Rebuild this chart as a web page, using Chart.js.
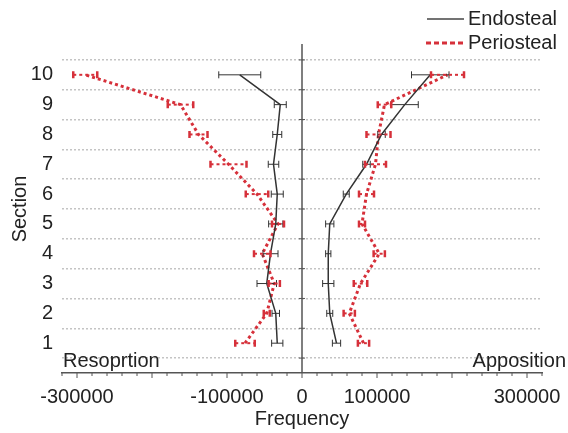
<!DOCTYPE html>
<html>
<head>
<meta charset="utf-8">
<script src="https://cdn.jsdelivr.net/npm/chart.js@4.4.0/dist/chart.umd.min.js"></script>
<style>
  html, body { margin: 0; padding: 0; background: #fff; }
  #wrap { width: 568px; height: 433px; }
</style>
</head>
<body>
<div id="wrap"><canvas id="myChart" width="568" height="433"></canvas></div>
<script>
// sections 1..10
const sections = [1, 2, 3, 4, 5, 6, 7, 8, 9, 10];

// Endosteal
const endoResorption = [-33000, -35000, -47000, -42000, -35000, -33000, -38000, -33000, -29000, -83000];
const endoResorptionErr = [7500, 5000, 13000, 10000, 9500, 8000, 7000, 6000, 8000, 28000];
const endoApposition = [46000, 37000, 35000, 35000, 37000, 59000, 86000, 106000, 137000, 171000];
const endoAppositionErr = [5500, 4000, 7500, 3500, 5500, 4000, 5000, 5000, 18000, 25000];

// Periosteal
const perioResorption = [-76000, -47000, -37000, -53000, -32000, -60000, -98000, -138000, -162000, -289000];
const perioResorptionErr = [13000, 4000, 7500, 11000, 8000, 15000, 24000, 12000, 17000, 16000];
const perioApposition = [82000, 63000, 78000, 103000, 80000, 86000, 98000, 102000, 110000, 194000];
const perioAppositionErr = [7500, 7500, 9000, 7500, 4000, 10000, 14000, 16000, 9000, 22000];

const xLabels = [-300000, -100000, 0, 100000, 300000];

const FONT = '"Liberation Sans", Arial, sans-serif';
const TEXT = '#222';
const BLACK = '#333';
const RED = '#d6303a';

function pts(vals) {
    return vals.map((v, i) => ({ x: v, y: sections[i] }));
}

const blackStyle = { borderColor: BLACK, backgroundColor: BLACK, borderWidth: 1.5, pointRadius: 0, showLine: true, tension: 0 };
const redStyle = { borderColor: RED, backgroundColor: RED, borderWidth: 3, borderDash: [3, 3], pointRadius: 0, showLine: true, tension: 0 };

const data = {
    datasets: [
        Object.assign({ label: 'Endosteal', data: pts(endoResorption), err: endoResorptionErr }, blackStyle),
        Object.assign({ label: 'Endosteal', data: pts(endoApposition), err: endoAppositionErr }, blackStyle),
        Object.assign({ label: 'Periosteal', data: pts(perioResorption), err: perioResorptionErr }, redStyle),
        Object.assign({ label: 'Periosteal', data: pts(perioApposition), err: perioAppositionErr }, redStyle)
    ]
};

// error bars, centre axis, bottom tick marks, side labels and legend
const extras = {
    id: 'extras',
    beforeDatasetsDraw(chart) {
        const ctx = chart.ctx;
        const xs = chart.scales.x, ys = chart.scales.y;
        const area = chart.chartArea;
        ctx.save();
        // centre axis
        const x0 = xs.getPixelForValue(0);
        ctx.strokeStyle = '#555';
        ctx.lineWidth = 1.5;
        ctx.beginPath();
        ctx.moveTo(x0, area.top - 1);
        ctx.lineTo(x0, area.bottom);
        ctx.stroke();
        ctx.lineWidth = 1;
        for (let s = 0.5; s < 11; s += 1) {
            const y = ys.getPixelForValue(s);
            ctx.beginPath();
            ctx.moveTo(x0 - 3, y);
            ctx.lineTo(x0 + 3, y);
            ctx.stroke();
        }
        // x tick marks
        ctx.strokeStyle = '#555';
        xs.ticks.forEach(t => {
            const x = xs.getPixelForValue(t.value);
            const major = Math.round(t.value) % 100000 === 0;
            ctx.beginPath();
            ctx.moveTo(x, area.bottom);
            ctx.lineTo(x, area.bottom + (major ? 5 : 3));
            ctx.stroke();
        });
        ctx.restore();
    },
    afterDatasetsDraw(chart) {
        const ctx = chart.ctx;
        const xs = chart.scales.x, ys = chart.scales.y;
        ctx.save();
        chart.data.datasets.forEach(ds => {
            const red = ds.label === 'Periosteal';
            ds.data.forEach((p, i) => {
                const e = ds.err[i];
                const xa = xs.getPixelForValue(p.x - e);
                const xb = xs.getPixelForValue(p.x + e);
                const y = ys.getPixelForValue(p.y);
                ctx.strokeStyle = red ? RED : BLACK;
                ctx.lineWidth = red ? 2 : 1;
                ctx.setLineDash(red ? [3, 3] : []);
                ctx.beginPath();
                ctx.moveTo(xa, y);
                ctx.lineTo(xb, y);
                ctx.stroke();
                ctx.setLineDash([]);
                ctx.lineWidth = red ? 2.5 : 1;
                ctx.beginPath();
                ctx.moveTo(xa, y - 3.5);
                ctx.lineTo(xa, y + 3.5);
                ctx.moveTo(xb, y - 3.5);
                ctx.lineTo(xb, y + 3.5);
                ctx.stroke();
            });
        });
        ctx.restore();
    },
    afterDraw(chart) {
        const ctx = chart.ctx;
        const area = chart.chartArea;
        ctx.save();
        ctx.font = '20px ' + FONT;
        ctx.fillStyle = TEXT;
        ctx.textBaseline = 'alphabetic';
        ctx.textAlign = 'left';
        ctx.fillText('Resoprtion', area.left + 1, area.bottom - 6);
        ctx.textAlign = 'right';
        ctx.fillText('Apposition', 566, area.bottom - 6);
        // legend
        ctx.textAlign = 'left';
        ctx.textBaseline = 'middle';
        ctx.strokeStyle = '#444';
        ctx.lineWidth = 1.5;
        ctx.beginPath();
        ctx.moveTo(427, 19);
        ctx.lineTo(464, 19);
        ctx.stroke();
        ctx.fillText('Endosteal', 468, 19);
        ctx.strokeStyle = RED;
        ctx.lineWidth = 3;
        ctx.setLineDash([5, 3]);
        ctx.beginPath();
        ctx.moveTo(426, 43);
        ctx.lineTo(465, 43);
        ctx.stroke();
        ctx.setLineDash([]);
        ctx.fillText('Periosteal', 468, 43);
        ctx.restore();
    }
};

const config = {
    type: 'scatter',
    data: data,
    plugins: [extras],
    options: {
        responsive: false,
        animation: false,
        layout: { padding: { top: 45, right: 26, left: 0, bottom: 0 } },
        plugins: {
            legend: { display: false },
            tooltip: { enabled: false }
        },
        scales: {
            x: {
                type: 'linear',
                min: -320000,
                max: 320000,
                afterFit: s => { s.height = 60; },
                afterBuildTicks: s => {
                    const t = [];
                    for (let v = -320000; v <= 320000; v += 20000) t.push({ value: v });
                    s.ticks = t;
                },
                grid: { display: false, drawTicks: false },
                border: { display: true, color: '#555', width: 1.5 },
                ticks: {
                    autoSkip: false,
                    maxRotation: 0,
                    padding: 12,
                    color: TEXT,
                    font: { family: FONT, size: 20 },
                    callback: v => xLabels.includes(v) ? String(v) : ''
                },
                title: {
                    display: true,
                    text: 'Frequency',
                    color: TEXT,
                    font: { family: FONT, size: 20 },
                    padding: { top: 0, bottom: 2 }
                }
            },
            y: {
                type: 'linear',
                min: 0,
                max: 11,
                afterFit: s => { s.width = 62; },
                afterBuildTicks: s => {
                    const t = [];
                    for (let v = 0; v <= 11; v += 0.5) t.push({ value: v });
                    s.ticks = t;
                },
                grid: {
                    drawTicks: false,
                    color: c => (c.tick && c.tick.value % 1 !== 0) ? '#c4c4c4' : 'rgba(0,0,0,0)',
                    lineWidth: 1.5
                },
                border: { display: false, dash: [2, 2] },
                ticks: {
                    autoSkip: false,
                    padding: 9,
                    color: TEXT,
                    font: { family: FONT, size: 20 },
                    callback: v => (v >= 1 && v <= 10 && v % 1 === 0) ? String(v) : ''
                },
                title: {
                    display: true,
                    text: 'Section',
                    color: TEXT,
                    font: { family: FONT, size: 20 },
                    padding: { top: 8, bottom: 0 }
                }
            }
        }
    }
};

var myChart = new Chart(document.getElementById('myChart'), config);
</script>
</body>
</html>
